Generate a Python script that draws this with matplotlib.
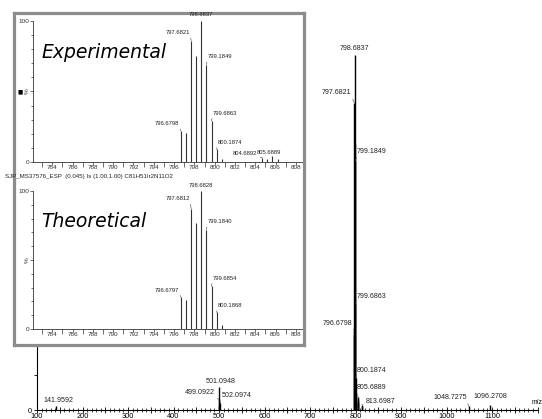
import matplotlib
matplotlib.use("Agg")
import matplotlib.pyplot as plt
from matplotlib.ticker import MultipleLocator, FuncFormatter

plt.rcParams["font.family"] = ["Liberation Sans", "DejaVu Sans"]

# full scan peaks (m/z, relative intensity %)
scan_mz = [141.9592, 499.0922, 500.0950, 501.0948, 502.0974,
           796.6798, 797.1810, 797.6821, 798.1830, 798.6837, 799.1849,
           799.6863, 800.1874, 800.6880, 801.1890,
           804.6892, 805.1890, 805.6889, 806.1890, 813.6987, 814.2000,
           1048.7275, 1096.2708]
scan_int = [1.2, 3.0, 1.0, 6.5, 2.0,
            22.5, 21.0, 86.5, 75.0, 100.0, 70.0,
            30.0, 9.0, 4.0, 2.0,
            2.0, 3.0, 3.7, 2.5, 1.5, 1.0,
            1.0, 1.5]
scan_labels = ["141.9592", "499.0922", "501.0948", "502.0974", "796.6798",
               "797.6821", "798.6837", "799.1849", "799.6863", "800.1874",
               "805.6889", "813.6987", "1048.7275", "1096.2708"]

# experimental isotope pattern
exp_mz = [796.6798, 797.1810, 797.6821, 798.1830, 798.6837, 799.1849,
          799.6863, 800.1874, 800.6880, 804.6892, 805.1890, 805.6889, 806.1890]
exp_int = [22.0, 20.5, 86.0, 75.0, 100.0, 69.0, 29.0, 9.0, 2.0, 3.0, 2.0, 4.0, 2.0]
exp_labels = ["796.6798", "797.6821", "798.6837", "799.1849", "799.6863",
              "800.1874", "804.6892", "805.6889"]

# theoretical isotope pattern
theo_mz = [796.6797, 797.1805, 797.6812, 798.1820, 798.6828, 799.1840,
           799.6854, 800.1868, 800.6870]
theo_int = [23.0, 21.0, 87.0, 77.0, 100.0, 72.0, 31.0, 12.0, 3.0]
theo_labels = ["796.6797", "797.6812", "798.6828", "799.1840", "799.6854", "800.1868"]

caption = "SJP_MS37576_ESP  (0.045) Is (1.00,1.00) C81H51Ir2N11O2"

W, H = 542, 419


def rect(x0, y0, x1, y1):
    # pixel box (top-left origin) -> figure fraction
    return [x0 / W, 1 - y1 / H, (x1 - x0) / W, (y1 - y0) / H]


def label_peaks(ax, mzs, ints, labels, offsets, fs):
    for lab in labels:
        m = float(lab)
        i = min(range(len(mzs)), key=lambda k: abs(mzs[k] - m))
        dx, dy, ha, lead = offsets.get(lab, (0, 6, "center", False))
        kw = {}
        if lead:
            rel = {"right": (1.0, 0.0), "left": (0.0, 0.0), "center": (0.5, 0.0)}[ha]
            kw["arrowprops"] = dict(arrowstyle="-", lw=0.4, color="#333333",
                                    relpos=rel, shrinkA=0, shrinkB=0)
        ax.annotate(lab, xy=(mzs[i], ints[i]), xytext=(dx, dy),
                    textcoords="offset pixels", ha=ha, va="center",
                    fontsize=fs, color="#222222", annotation_clip=False, **kw)


fig = plt.figure(figsize=(W / 100, H / 100), dpi=100)

# ---- main spectrum ----
ax = fig.add_axes(rect(37, 55, 537.5, 410))
ax.patch.set_alpha(0)
ax.vlines(scan_mz, 0, scan_int, color="black", lw=1.0)
ax.set_xlim(100, 1200)
ax.set_ylim(0, 100)
for s in ["top", "right"]:
    ax.spines[s].set_visible(False)
for s in ["left", "bottom"]:
    ax.spines[s].set_linewidth(0.8)
ax.xaxis.set_major_locator(MultipleLocator(50))
ax.xaxis.set_minor_locator(MultipleLocator(10))
ax.xaxis.set_major_formatter(
    FuncFormatter(lambda v, p: "%d" % v if v % 100 == 0 and v < 1150 else ""))
ax.yaxis.set_major_locator(MultipleLocator(10))
ax.yaxis.set_major_formatter(FuncFormatter(lambda v, p: "0" if v == 0 else ""))
ax.tick_params(axis="x", which="major", direction="inout", length=4, width=0.6,
               labelsize=5.3, pad=0)
ax.tick_params(axis="x", which="minor", direction="inout", length=2.5, width=0.5)
ax.tick_params(axis="y", direction="out", length=2.5, width=0.6, labelsize=5.3, pad=1)
scan_off = {
    "798.6837": (0, 6, "center", False),
    "797.6821": (-3, 10, "right", True),
    "799.1849": (2, 10, "left", True),
    "799.6863": (1, 7, "left", True),
    "796.6798": (-2, 7, "right", True),
    "800.1874": (1, 8, "left", True),
    "805.6889": (-1, 9, "left", True),
    "813.6987": (4, 3, "left", True),
    "501.0948": (1, 5, "center", False),
    "499.0922": (-4, 7, "right", True),
    "502.0974": (2, 7, "left", True),
    "141.9592": (2, 5, "center", False),
    "1048.7275": (-2, 9, "right", True),
    "1096.2708": (0, 8, "center", False),
}
label_peaks(ax, scan_mz, scan_int, scan_labels, scan_off, 5.1)
fig.text(542 / W, 1 - 406 / H, "m/z", fontsize=4.8, va="bottom", ha="right")

# ---- inset frame ----
frame = fig.add_axes(rect(13.5, 13.5, 303.5, 344.5))
frame.set_xticks([])
frame.set_yticks([])
frame.set_facecolor("white")
for s in frame.spines.values():
    s.set_color("#8c8c8c")
    s.set_linewidth(2.3)


def inset(box, mzs, ints, labels, offsets, title):
    a = fig.add_axes(rect(*box))
    a.patch.set_alpha(0)
    a.vlines(mzs, 0, ints, color="#333333", lw=0.8)
    a.set_xlim(782.1, 808.6)
    a.set_ylim(0, 100)
    for s in ["top", "right"]:
        a.spines[s].set_visible(False)
    for s in ["left", "bottom"]:
        a.spines[s].set_linewidth(0.6)
        a.spines[s].set_color("#333333")
    a.set_xticks(range(784, 809, 2))
    a.xaxis.set_minor_locator(MultipleLocator(1))
    a.set_yticks([0, 50, 100])
    a.set_yticklabels(["0", "%", "100"])
    a.yaxis.set_minor_locator(MultipleLocator(10))
    for t in a.get_yticklabels():
        if t.get_text() == "%":
            t.set_rotation(90)
            t.set_va("center")
    a.tick_params(axis="both", which="major", length=2, width=0.5, labelsize=4.6,
                  pad=0.5, colors="#333333")
    a.tick_params(axis="x", which="minor", length=3.5, width=0.5, color="#333333")
    a.tick_params(axis="y", which="minor", length=1.5, width=0.5, color="#333333")
    label_peaks(a, mzs, ints, labels, offsets, 4.2)
    a.text(0.03, 0.78, title, transform=a.transAxes, fontsize=13.5,
           style="italic", family="DejaVu Sans", va="center", ha="left")
    return a


exp_off = {
    "798.6837": (0, 6, "center", False),
    "797.6821": (-1, 8, "right", True),
    "796.6798": (-2, 7, "right", True),
    "799.1849": (1, 8, "left", True),
    "799.6863": (1, 8, "left", True),
    "800.1874": (1, 7, "left", True),
    "804.6892": (-5, 4, "right", True),
    "805.6889": (-4, 4, "center", False),
}
theo_off = {
    "798.6828": (0, 6, "center", False),
    "797.6812": (-1, 10, "right", True),
    "796.6797": (-2, 7, "right", True),
    "799.1840": (1, 8, "left", True),
    "799.6854": (1, 8, "left", True),
    "800.1868": (1, 7, "left", True),
}
a1 = inset((33, 21, 302, 162), exp_mz, exp_int, exp_labels, exp_off, "Experimental")
a2 = inset((33, 191, 302, 329), theo_mz, theo_int, theo_labels, theo_off, "Theoretical")
fig.text(20 / W, 1 - 92 / H, "\u25a0", fontsize=4, ha="center", va="center",
         family="DejaVu Sans")
fig.text(5 / W, 1 - 176.5 / H, caption, fontsize=4.4, ha="left", va="center",
         color="#222222")

fig.savefig("out.png", dpi=100)
